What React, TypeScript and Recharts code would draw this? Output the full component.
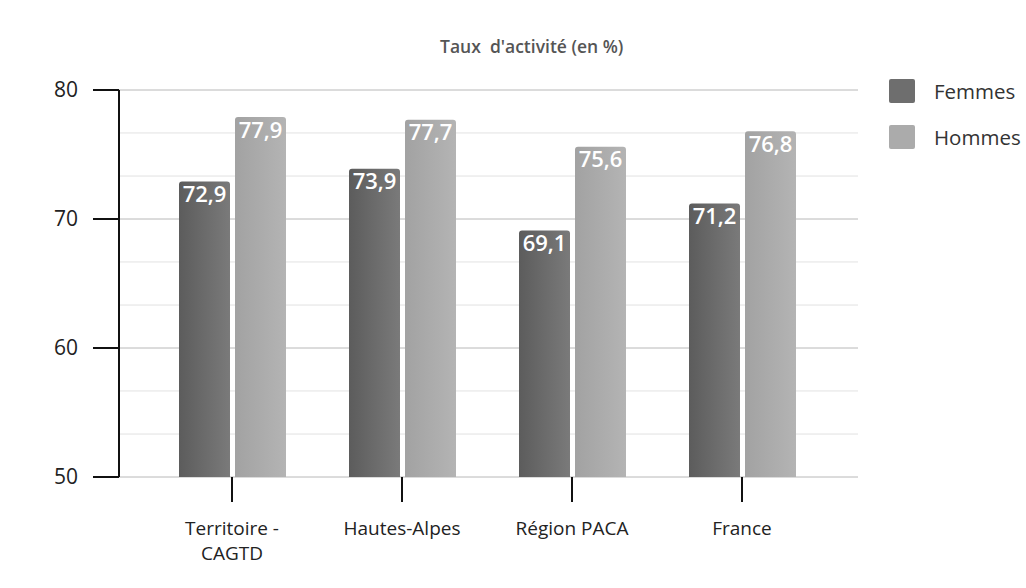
import {
  Bar,
  BarChart,
  CartesianGrid,
  LabelList,
  XAxis,
  YAxis,
} from "recharts";

const categories = ["Territoire -\nCAGTD", "Hautes-Alpes", "Région PACA", "France"];
const femmes = [72.9, 73.9, 69.1, 71.2];
const hommes = [77.9, 77.7, 75.6, 76.8];
const yTicks = [50, 60, 70, 80];
const minorGrid = [53.33, 56.67, 63.33, 66.67, 73.33, 76.67];

const data = categories.map((name, i) => ({
  name,
  Femmes: femmes[i],
  Hommes: hommes[i],
}));

const FONT = "'Open Sans', 'Noto Sans', sans-serif";

const series = [
  { key: "Femmes", color: "#6e6e6e", grad: "gradF", from: "#5c5c5c", to: "#7a7a7a" },
  { key: "Hommes", color: "#ababab", grad: "gradH", from: "#a2a2a2", to: "#b4b4b4" },
];

function CategoryTick({ x, y, payload }: any) {
  const lines = String(payload.value).split("\n");
  return (
    <g>
      {lines.map((l, i) => (
        <text
          key={i}
          x={x}
          y={y + 31 + i * 25}
          textAnchor="middle"
          fill="#222"
          fontSize={19}
          fontFamily={FONT}
        >
          {l}
        </text>
      ))}
    </g>
  );
}

export default function App() {
  return (
    <div style={{ position: "absolute", left: 0, top: 0, width: 1026, height: 588, background: "#fff" }}>
      <div
        style={{
          position: "absolute",
          left: 440,
          top: 34,
          fontFamily: FONT,
          fontSize: 17.5,
          fontWeight: 600,
          color: "#555",
          whiteSpace: "pre",
        }}
      >
        Taux  d'activité (en %)
      </div>
      <div style={{ position: "absolute", left: 889, top: 68, fontFamily: FONT }}>
        {series.map((s) => (
          <div key={s.key} style={{ display: "flex", alignItems: "center", height: 46 }}>
            <div style={{ width: 26, height: 24, background: s.color, borderRadius: 2 }} />
            <span style={{ marginLeft: 19, fontSize: 20.5, color: "#333" }}>{s.key}</span>
          </div>
        ))}
      </div>
      <BarChart
        width={1026}
        height={588}
        data={data}
        margin={{ top: 90, right: 168, bottom: 0, left: 0 }}
        barSize={51}
        barGap={5}
      >
        <defs>
          {series.map((s) => (
            <linearGradient key={s.grad} id={s.grad} x1="0" y1="0" x2="1" y2="0">
              <stop offset="0%" stopColor={s.from} />
              <stop offset="100%" stopColor={s.to} />
            </linearGradient>
          ))}
        </defs>
        <CartesianGrid vertical={false} horizontalValues={minorGrid} stroke="#e2e2e2" />
        <CartesianGrid vertical={false} horizontalValues={yTicks} stroke="#b8b8b8" />
        <XAxis
          dataKey="name"
          height={111}
          axisLine={false}
          tickLine={{ stroke: "#111", strokeWidth: 2 }}
          tickSize={25}
          tick={<CategoryTick />}
          interval={0}
          padding={{ left: 28, right: 31 }}
        />
        <YAxis
          width={119}
          domain={[50, 80]}
          ticks={yTicks}
          allowDataOverflow
          axisLine={{ stroke: "#111", strokeWidth: 2 }}
          tickLine={{ stroke: "#111", strokeWidth: 2 }}
          tickSize={26}
          tickMargin={15}
          tick={{ fill: "#222", fontSize: 21, fontFamily: FONT }}
        />
        {series.map((s) => (
          <Bar
            key={s.key}
            dataKey={s.key}
            fill={`url(#${s.grad})`}
            radius={[3, 3, 0, 0]}
            isAnimationActive={false}
          >
            <LabelList
              dataKey={s.key}
              position="insideTop"
              offset={5}
              fill="#fff"
              fontSize={22}
              fontWeight={600}
              fontFamily={FONT}
              formatter={(v: any) => String(v).replace(".", ",")}
            />
          </Bar>
        ))}
      </BarChart>
    </div>
  );
}
